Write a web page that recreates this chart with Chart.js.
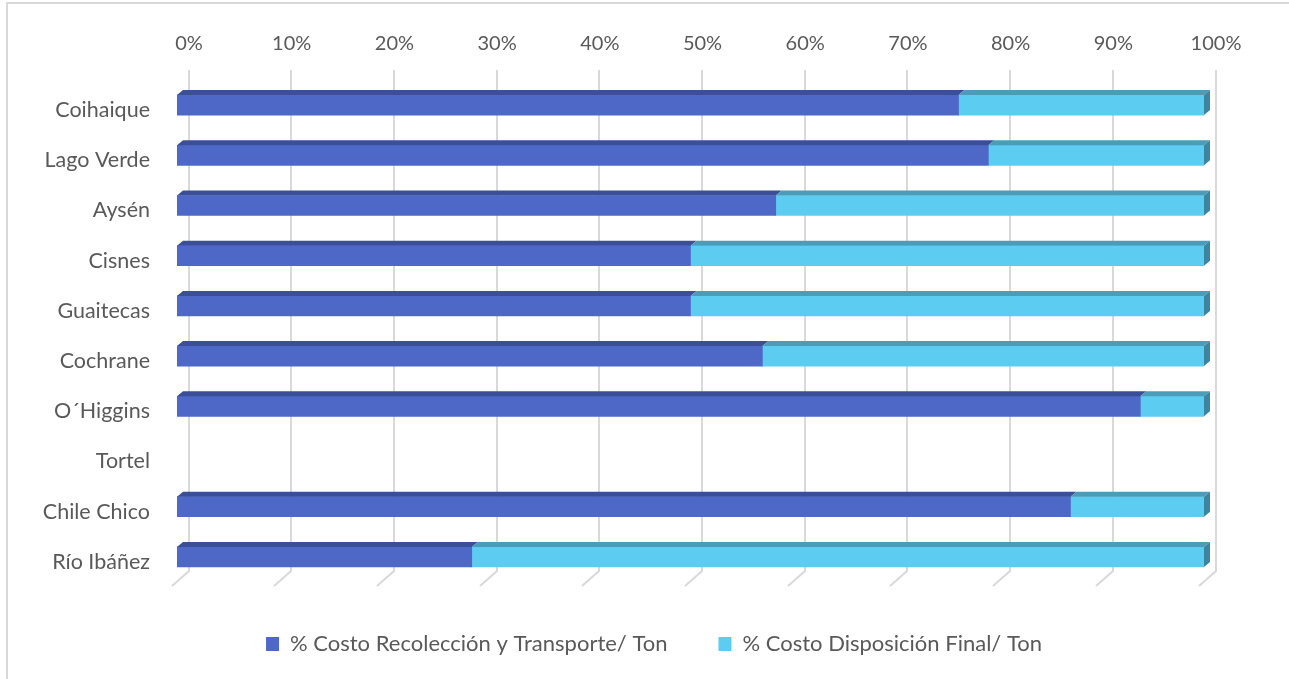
<!DOCTYPE html>
<html>
<head>
<meta charset="utf-8">
<script src="https://cdn.jsdelivr.net/npm/chart.js@4/dist/chart.umd.min.js"></script>
<style>
  html, body { margin: 0; padding: 0; background: #fff; overflow: hidden; }
  #wrap { width: 1289px; height: 679px; }
  canvas { display: block; }
</style>
</head>
<body>
<div id="wrap"><canvas id="costChart" width="1289" height="679"></canvas></div>
<script>
// % del costo por tonelada, por comuna (Tortel sin datos)
const comunas = ['Coihaique', 'Lago Verde', 'Aysén', 'Cisnes', 'Guaitecas', 'Cochrane', 'O´Higgins', 'Tortel', 'Chile Chico', 'Río Ibáñez'];
const recoleccion = [76.1, 79.0, 58.3, 50.0, 50.0, 57.0, 93.8, null, 87.0, 28.7];
const disposicion = [23.9, 21.0, 41.7, 50.0, 50.0, 43.0, 6.2, null, 13.0, 71.3];
const pctTicks = [0, 10, 20, 30, 40, 50, 60, 70, 80, 90, 100];

const textColor = '#595959';
const fontFamily = 'Lato, "Open Sans", sans-serif';
const wallShift = 11.5;          // gridlines sit on the back wall
const depth = { dx: 6, dy: -5 }; // bar extrusion

// white background + thin frame (left and top edges)
const frame = {
  id: 'frame',
  beforeDraw(chart) {
    const ctx = chart.ctx;
    ctx.save();
    ctx.fillStyle = '#fff';
    ctx.fillRect(0, 0, chart.width, chart.height);
    ctx.fillStyle = '#D9D9D9';
    ctx.fillRect(6, 2, 2, chart.height - 2);
    ctx.fillRect(6, 2, chart.width - 6, 2);
    ctx.restore();
  }
};

// vertical gridlines with the slanted floor edge
const backWall = {
  id: 'backWall',
  beforeDatasetsDraw(chart) {
    const { ctx, chartArea, scales: { x } } = chart;
    ctx.save();
    ctx.strokeStyle = '#D9D9D9';
    ctx.lineWidth = 2;
    pctTicks.forEach(v => {
      const px = Math.round(x.getPixelForValue(v) + wallShift);
      ctx.beginPath();
      ctx.moveTo(px, chartArea.top - 10);
      ctx.lineTo(px, chartArea.bottom - 11);
      ctx.lineTo(px - 17, chartArea.bottom + 4);
      ctx.stroke();
    });
    ctx.restore();
  }
};

// top faces of every segment, side face at the end of each stack
const barFaces = {
  id: 'barFaces',
  afterDatasetsDraw(chart) {
    const ctx = chart.ctx;
    const metas = chart.getSortedVisibleDatasetMetas();
    const ends = [];
    ctx.save();
    metas.forEach(meta => {
      const ds = chart.data.datasets[meta.index];
      meta.data.forEach((bar, i) => {
        const { x, y, base, height } = bar.getProps(['x', 'y', 'base', 'height'], true);
        if (isNaN(x) || Math.abs(x - base) < 0.5) return;
        const top = y - height / 2;
        ctx.fillStyle = ds.topColor;
        ctx.beginPath();
        ctx.moveTo(base, top);
        ctx.lineTo(base + depth.dx, top + depth.dy);
        ctx.lineTo(x + depth.dx, top + depth.dy);
        ctx.lineTo(x, top);
        ctx.closePath();
        ctx.fill();
        if (!ends[i] || x > ends[i].x) ends[i] = { x, top, height, color: ds.sideColor };
      });
    });
    ends.forEach(e => {
      if (!e) return;
      ctx.fillStyle = e.color;
      ctx.beginPath();
      ctx.moveTo(e.x, e.top);
      ctx.lineTo(e.x + depth.dx, e.top + depth.dy);
      ctx.lineTo(e.x + depth.dx, e.top + e.height + depth.dy);
      ctx.lineTo(e.x, e.top + e.height);
      ctx.closePath();
      ctx.fill();
    });
    ctx.restore();
  }
};

new Chart(document.getElementById('costChart'), {
  type: 'bar',
  data: {
    labels: comunas,
    datasets: [{
      label: '% Costo Recolección y Transporte/ Ton',
      data: recoleccion,
      backgroundColor: '#4D68C7',
      topColor: '#3A4F98',
      sideColor: '#3A4F98',
      barThickness: 20
    }, {
      label: '% Costo Disposición Final/ Ton',
      data: disposicion,
      backgroundColor: '#5DCCF1',
      topColor: '#4A9CB8',
      sideColor: '#3B85A0',
      barThickness: 20
    }]
  },
  options: {
    indexAxis: 'y',
    responsive: false,
    devicePixelRatio: 1,
    animation: false,
    layout: { padding: { left: 30, right: 11, top: 0, bottom: 14 } },
    plugins: {
      tooltip: { enabled: false },
      legend: {
        position: 'bottom',
        labels: {
          color: textColor,
          font: { family: fontFamily, size: 22 },
          boxWidth: 13,
          boxHeight: 14,
          padding: 51
        }
      }
    },
    scales: {
      x: {
        position: 'top',
        stacked: true,
        min: 0,
        max: 100,
        grid: { display: false, drawTicks: false },
        border: { display: false },
        ticks: {
          stepSize: 10,
          padding: 24,
          labelOffset: 12,
          color: textColor,
          font: { family: fontFamily, size: 20 },
          callback: v => v + '%'
        },
        afterFit: s => { s.height = 80; }
      },
      y: {
        stacked: true,
        grid: { display: false, drawTicks: false },
        border: { display: false },
        ticks: {
          padding: 27,
          labelOffset: 5,
          color: textColor,
          font: { family: fontFamily, size: 21.5 }
        },
        afterFit: s => { s.width = 147; }
      },
      yRight: {
        position: 'right',
        type: 'linear',
        display: true,
        grid: { display: false, drawTicks: false },
        border: { display: false },
        ticks: { display: false },
        afterFit: s => { s.width = 74; }
      }
    }
  },
  plugins: [frame, backWall, barFaces]
});
</script>
</body>
</html>
